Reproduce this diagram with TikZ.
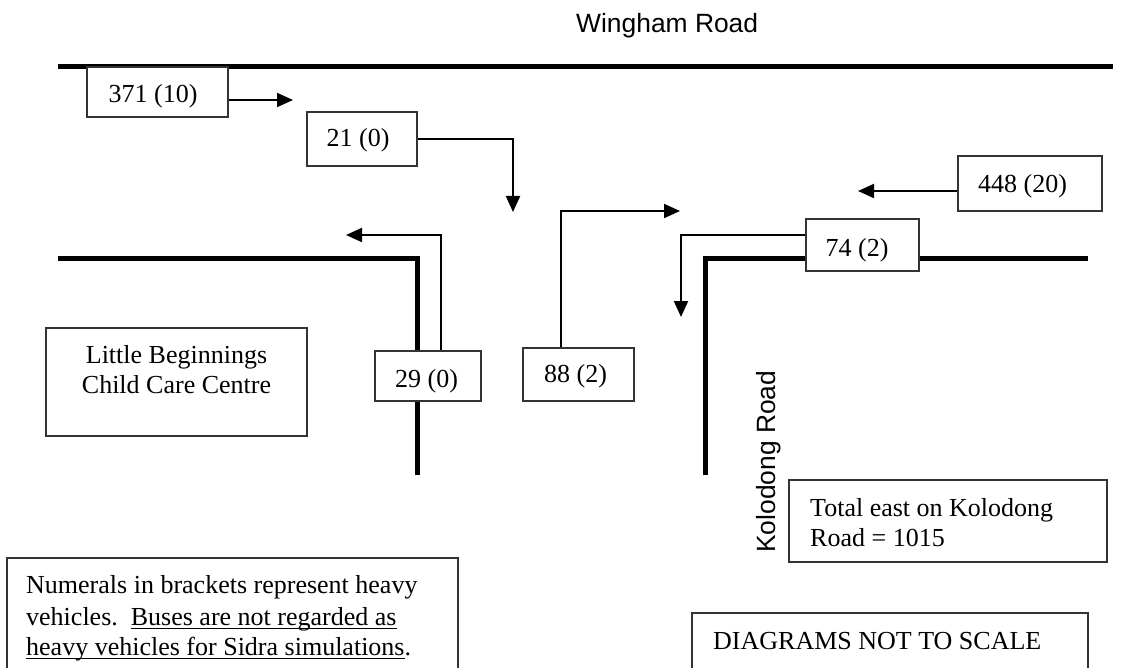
\documentclass[tikz,border=0pt]{standalone}
\usepackage{fontspec}
\setmainfont{Liberation Serif}
\newfontfamily\roadfont{Liberation Sans}
\usetikzlibrary{arrows.meta}
\newsavebox\ulbox
% underline with a bar set just below the baseline
\newcommand\ulbar[1]{\sbox\ulbox{#1}\rlap{\rule[-4pt]{\wd\ulbox}{1.3pt}}\usebox\ulbox}
% pad a label on the right so it sits a little left of centre
\newcommand\lpad[2]{#2\hspace*{#1}}

\begin{document}
\begin{tikzpicture}[x=1pt,y=-1pt,
  road/.style={line width=5pt},
  flow/.style={line width=2pt,-{Triangle[length=16pt,width=14pt]}},
  count/.style={draw=black!80,line width=1.2pt,fill=white,inner sep=0pt,
    font=\fontsize{26}{30}\selectfont,text height=22pt,text depth=0pt},
  note/.style={draw=black!80,line width=1.2pt,fill=white,inner sep=0pt},
  txt/.style={inner sep=0pt,font=\fontsize{26}{30}\selectfont},
  sans/.style={inner sep=0pt,font=\roadfont\fontsize{26.4}{30}\selectfont}]

\useasboundingbox (0,0) rectangle (1145,668);
\clip (0,0) rectangle (1145,668);

% road edges
\draw[road] (58,67) -- (1113,67);
\draw[road] (58,259) -- (417,259) -- (417,475);
\draw[road] (705,475) -- (705,259) -- (1088,259);

% road names
\node[sans,anchor=base west] (wingham) at (576,33) {Wingham Road};
\node[sans,rotate=90,anchor=base west] (kolodong) at (775,553) {Kolodong Road};

% turning counts
\node[count,minimum width=141pt,minimum height=50pt] (b371) at (157.5,92) {\lpad{9pt}{371 (10)}};
\node[count,minimum width=110pt,minimum height=54pt,text height=16pt] (b21) at (362,139) {\lpad{8pt}{21 (0)}};
\node[count,minimum width=106pt,minimum height=50pt] (b29) at (428,376) {\lpad{3pt}{29 (0)}};
\node[count,minimum width=111pt,minimum height=53pt,text height=15pt] (b88) at (578.5,374.5) {\lpad{6pt}{88 (2)}};
\node[count,minimum width=113pt,minimum height=52pt,text height=24pt] (b74) at (862.5,245) {\lpad{11pt}{74 (2)}};
\node[count,minimum width=144pt,minimum height=55pt,text height=19pt] (b448) at (1030,183.5) {\lpad{15pt}{448 (20)}};

% movement arrows
\coordinate (t1) at (293,100);
\coordinate (t2) at (513,212);
\coordinate (t3) at (346,235);
\coordinate (t4) at (680,211);
\coordinate (t5) at (681,317);
\coordinate (t6) at (858,191);
\draw[flow] ([yshift=-8pt]b371.east) -- (t1);
\draw[flow] (b21.east) -| (t2);
\draw[flow] ([xshift=13pt]b29.north) |- (t3);
\draw[flow] ([xshift=-17.5pt]b88.north) |- (t4);
\draw[flow] ([yshift=10pt]b74.west) -| (t5);
\draw[flow] ([yshift=-7.5pt]b448.west) -- (t6);

% child care centre
\node[note,minimum width=261pt,minimum height=108pt] (centre) at (176.5,382) {};
\node[txt,anchor=base] (centre1) at (176.5,363) {Little Beginnings};
\node[txt,anchor=base] (centre2) at (176.5,393) {Child Care Centre};

% total note
\node[note,minimum width=318pt,minimum height=82pt] (total) at (948,521) {};
\node[txt,anchor=base west] (total1) at (810,516) {Total east on Kolodong};
\node[txt,anchor=base west] (total2) at (810,546) {Road = 1015};

% heavy vehicle note
\node[note,minimum width=451pt,minimum height=132pt] (heavy) at (232.5,624) {};
\node[txt,anchor=base west] (heavy1) at (26,593) {Numerals in brackets represent heavy};
\node[txt,anchor=base west] (heavy2) at (26,625) {vehicles.\ \ \ulbar{Buses are not regarded as}};
\node[txt,anchor=base west] (heavy3) at (26,655) {\ulbar{heavy vehicles for Sidra simulations}.};

% scale note
\node[note,minimum width=396pt,minimum height=77pt] (scale) at (890,651.5) {};
\node[txt,anchor=base west] (scale1) at (713,649) {DIAGRAMS NOT TO SCALE};
\end{tikzpicture}
\end{document}
